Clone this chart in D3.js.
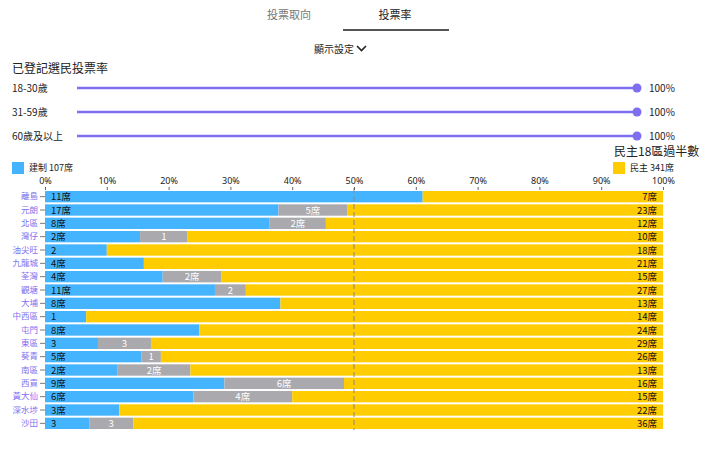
<!DOCTYPE html>
<html>
<head>
<meta charset="utf-8">
<script src="https://cdn.jsdelivr.net/npm/d3@7"></script>
<style>
  body { margin: 0; background: #fff; overflow: hidden; }
  svg { display: block; font-family: "Noto Sans CJK TC", "Noto Sans", sans-serif; }
</style>
</head>
<body>
<script>
const width = 704;
const height = 456;

// data
const districts = ["離島", "元朗", "北區", "灣仔", "油尖旺", "九龍城", "荃灣", "觀塘", "大埔",
  "中西區", "屯門", "東區", "葵青", "南區", "西貢", "黃大仙", "深水埗", "沙田"];
const estSeats = [11, 17, 8, 2, 2, 4, 4, 11, 8, 1, 8, 3, 5, 2, 9, 6, 3, 3];
const indSeats = [0, 5, 2, 1, 0, 0, 2, 2, 0, 0, 0, 3, 1, 2, 6, 4, 0, 3];
const demSeats = [7, 23, 12, 10, 18, 21, 15, 27, 13, 14, 24, 29, 26, 13, 16, 15, 22, 36];
const xTicks = [0, 10, 20, 30, 40, 50, 60, 70, 80, 90, 100];
const ageGroups = ["18-30歲", "31-59歲", "60歲及以上"];
const turnout = [100, 100, 100];
const tabs = ["投票取向", "投票率"];
const majorityTitle = "民主18區過半數";

const blue = "#45b4ff", grey = "#a9a9ae", yellow = "#ffcc00", purple = "#7f6ff0";

const svg = d3.select("body").append("svg")
    .attr("width", width)
    .attr("height", height);

// tabs
const tabX = [289, 395];
svg.selectAll(".tab").data(tabs).join("text")
    .attr("class", "tab")
    .attr("x", (d, i) => tabX[i])
    .attr("y", 19)
    .attr("text-anchor", "middle")
    .attr("font-size", 11)
    .attr("fill", (d, i) => i === 1 ? "#222" : "#777")
    .text(d => d);
svg.append("rect")
    .attr("x", 343).attr("y", 29).attr("width", 106).attr("height", 2)
    .attr("fill", "#555");

svg.append("text")
    .attr("x", 334).attr("y", 53)
    .attr("text-anchor", "middle")
    .attr("font-size", 10)
    .attr("fill", "#222")
    .text("顯示設定");
svg.append("path")
    .attr("d", "M357,46 L361.5,50.5 L366,46")
    .attr("fill", "none")
    .attr("stroke", "#222")
    .attr("stroke-width", 1.6);

// turnout sliders
svg.append("text")
    .attr("x", 12).attr("y", 73)
    .attr("font-size", 12)
    .attr("fill", "#222")
    .text("已登記選民投票率");

const sScale = d3.scaleLinear().domain([0, 100]).range([77, 637]);
const rowY = [88, 112, 136];
const sl = svg.selectAll(".slider").data(ageGroups).join("g")
    .attr("class", "slider")
    .attr("transform", (d, i) => `translate(0,${rowY[i]})`);
sl.append("text")
    .attr("x", 12).attr("y", 4)
    .attr("font-size", 10)
    .attr("fill", "#222")
    .text(d => d);
sl.append("line")
    .attr("x1", sScale(0))
    .attr("x2", (d, i) => sScale(turnout[i]))
    .attr("stroke", purple)
    .attr("stroke-width", 2.5);
sl.append("circle")
    .attr("cx", (d, i) => sScale(turnout[i]))
    .attr("r", 4.5)
    .attr("fill", purple);
sl.append("text")
    .attr("x", 649).attr("y", 4)
    .attr("font-size", 10)
    .attr("fill", "#222")
    .text((d, i) => turnout[i] + "%");

// legend
const estTotal = d3.sum(estSeats);
const demTotal = d3.sum(demSeats);

svg.append("rect").attr("x", 12).attr("y", 162).attr("width", 12).attr("height", 12).attr("fill", blue);
svg.append("text").attr("x", 29).attr("y", 171).attr("font-size", 9).attr("fill", "#222")
    .text(`建制 ${estTotal}席`);
svg.append("text").attr("x", 614).attr("y", 156).attr("font-size", 12).attr("fill", "#222")
    .text(majorityTitle);
svg.append("rect").attr("x", 613).attr("y", 162).attr("width", 12).attr("height", 12).attr("fill", yellow);
svg.append("text").attr("x", 630).attr("y", 171).attr("font-size", 9).attr("fill", "#222")
    .text(`民主 ${demTotal}席`);

// bars
const rows = districts.map((d, i) => {
  const total = estSeats[i] + indSeats[i] + demSeats[i];
  return { district: d, est: estSeats[i] / total, ind: indSeats[i] / total, dem: demSeats[i] / total,
    estN: estSeats[i], indN: indSeats[i], demN: demSeats[i] };
});

const x = d3.scaleLinear().domain([0, 1]).range([45, 663]);
const y = d3.scaleBand().domain(districts).range([190, 430]).paddingInner(0.15).paddingOuter(0.075);

const keys = ["est", "ind", "dem"];
const colors = { est: blue, ind: grey, dem: yellow };
const stack = d3.stack().keys(keys)(rows);

svg.append("g").selectAll("g").data(stack).join("g")
    .attr("fill", s => colors[s.key])
  .selectAll("rect").data(s => s).join("rect")
    .attr("x", d => x(d[0]))
    .attr("y", d => y(d.data.district))
    .attr("width", d => x(d[1]) - x(d[0]))
    .attr("height", y.bandwidth());

// bar labels
const lab = svg.append("g").attr("font-size", 9.5);
const ym = d => y(d.data.district) + y.bandwidth() / 2 + 3.5;

lab.selectAll(".lest").data(stack[0].filter(d => d.data.estN > 0)).join("text")
    .attr("x", d => x(d[0]) + 6)
    .attr("y", ym)
    .attr("fill", "#111")
    .text(d => d.data.estN + (x(d[1]) - x(d[0]) > 65 ? "席" : ""));

lab.selectAll(".lind").data(stack[1].filter(d => d.data.indN > 0)).join("text")
    .attr("x", d => (x(d[0]) + x(d[1])) / 2)
    .attr("y", ym)
    .attr("text-anchor", "middle")
    .attr("fill", "#fff")
    .text(d => d.data.indN + (x(d[1]) - x(d[0]) > 56 ? "席" : ""));

lab.selectAll(".ldem").data(stack[2]).join("text")
    .attr("x", d => x(d[1]) - 6)
    .attr("y", ym)
    .attr("text-anchor", "end")
    .attr("fill", "#111")
    .text(d => d.data.demN + "席");

// 50% line
svg.append("line")
    .attr("x1", x(0.5)).attr("x2", x(0.5))
    .attr("y1", 188).attr("y2", 430)
    .attr("stroke", "#8a8a8a")
    .attr("stroke-opacity", 0.85)
    .attr("stroke-width", 1.2)
    .attr("stroke-dasharray", "5,3");

// axes
const xAxis = svg.append("g")
    .attr("transform", "translate(0,190)")
    .call(d3.axisTop(x).tickValues(xTicks.map(t => t / 100)).tickFormat(d => Math.round(d * 100) + "%").tickSize(3).tickPadding(3));
xAxis.select(".domain").remove();
xAxis.selectAll(".tick line").attr("stroke", "#666");
xAxis.selectAll("text").attr("font-size", 9).attr("fill", "#222").attr("font-family", "\"Noto Sans\", sans-serif");

const yAxis = svg.append("g")
    .attr("transform", "translate(45,0)")
    .call(d3.axisLeft(y).tickSize(5).tickPadding(2));
yAxis.select(".domain").remove();
yAxis.selectAll(".tick line").attr("stroke", "#777");
yAxis.selectAll("text").attr("font-size", 8.5).attr("fill", purple).attr("font-family", "\"Noto Sans CJK TC\", sans-serif");
</script>
</body>
</html>
